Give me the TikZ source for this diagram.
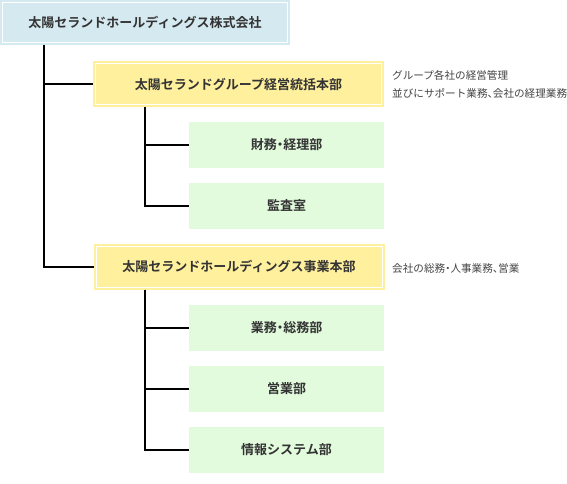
\documentclass[tikz,border=0pt]{standalone}
\usepackage{fontspec}
\newfontfamily\cjk{Noto Sans CJK JP}[BoldFont={Noto Sans CJK JP Bold}]
\newfontfamily\cjkp{Noto Sans CJK JP}[BoldFont={Noto Sans CJK JP Bold},RawFeature=+palt]
\newcommand{\pdot}{{\cjkp ・}}
\newcommand{\pcomma}{{\cjkp 、}}
\definecolor{topfill}{HTML}{D5EAF0}
\definecolor{yelfill}{HTML}{FFF09E}
\definecolor{grnfill}{HTML}{E2FBDD}
\definecolor{txt}{HTML}{333333}
\definecolor{note}{HTML}{444444}
\begin{document}
\begin{tikzpicture}[x=1pt,y=-1pt,
  box/.style={inner sep=0pt, outer sep=0pt, text=txt, font=\cjk\bfseries\fontsize{13}{15}\selectfont},
  topbox/.style={box, fill=topfill, minimum width=290pt, minimum height=45pt},
  yelbox/.style={box, fill=yelfill, minimum width=291pt, minimum height=46pt},
  grnbox/.style={box, fill=grnfill, minimum width=195pt, minimum height=46pt},
  frame/.style={draw=white, line width=1pt},
  notetext/.style={anchor=west, inner sep=0pt, text=note, font=\cjk\fontsize{10.6}{12}\selectfont},
  link/.style={draw=black, line width=2pt}]
\useasboundingbox (0,0) rectangle (567,484);
\node[topbox] (top) at (145,22.5) {太陽セランドホールディングス株式会社};
\node[yelbox] (y1) at (238.5,84) {太陽セランドグループ経営統括本部};
\node[yelbox] (y2) at (239,266.5) {太陽セランドホールディングス事業本部};
\node[grnbox] (g1) at (286.5,145) {財務\pdot 経理部};
\node[grnbox] (g2) at (286.5,205.5) {監査室};
\node[grnbox] (g3) at (286.5,328) {業務\pdot 総務部};
\node[grnbox] (g4) at (286.5,389) {営業部};
\node[grnbox] (g5) at (286.5,450) {情報システム部};
\foreach \n in {top,y1,y2}
  \draw[frame] ([shift={(2.5pt,-2.5pt)}]\n.north west) rectangle ([shift={(-2.5pt,2.5pt)}]\n.south east);
\node[notetext] (n1) at (392,75) {グループ各社の経営管理};
\node[notetext] (n2) at (392,93) {並びにサポート業務\pcomma 会社の経理業務};
\node[notetext] (n3) at (392,268) {会社の総務\pdot 人事業務\pcomma 営業};
% connectors
\coordinate (t0) at (44,0);
\draw[link] (top.south -| t0) |- (y1.west);
\draw[link] (top.south -| t0) |- (y2.west);
\coordinate (a0) at (145,0);
\draw[link] (y1.south -| a0) |- (g1.west);
\draw[link] (y1.south -| a0) |- (g2.west);
\draw[link] (y2.south -| a0) |- (g3.west);
\draw[link] (y2.south -| a0) |- (g4.west);
\draw[link] (y2.south -| a0) |- (g5.west);
\end{tikzpicture}
\end{document}
